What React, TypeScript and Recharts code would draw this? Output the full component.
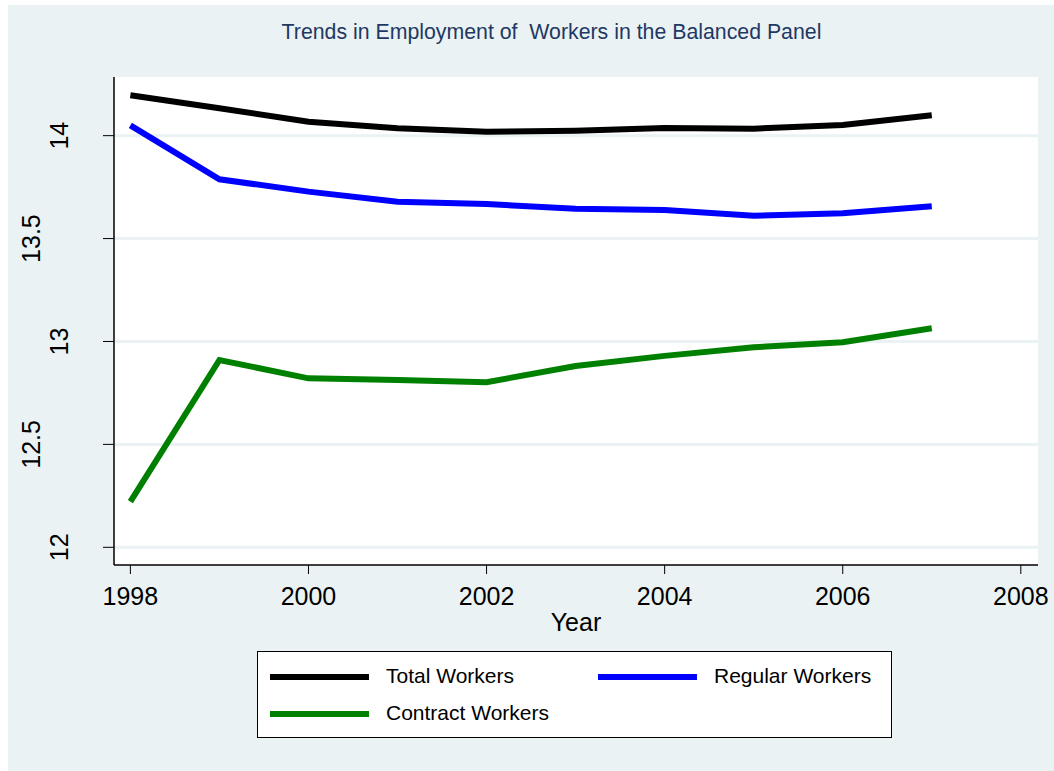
import { LineChart, Line, XAxis, YAxis, CartesianGrid, Label } from "recharts";

const years = [1998, 1999, 2000, 2001, 2002, 2003, 2004, 2005, 2006, 2007];
const totalWorkers = [14.196, 14.133, 14.068, 14.036, 14.019, 14.024, 14.037, 14.034, 14.052, 14.099];
const regularWorkers = [14.05, 13.788, 13.728, 13.679, 13.668, 13.645, 13.639, 13.611, 13.623, 13.657];
const contractWorkers = [12.222, 12.91, 12.821, 12.813, 12.802, 12.881, 12.93, 12.972, 12.996, 13.064];

const xTicks = [1998, 2000, 2002, 2004, 2006, 2008];
const yTicks = [12, 12.5, 13, 13.5, 14];

const series = [
  { key: "total", label: "Total Workers", color: "#000000" },
  { key: "regular", label: "Regular Workers", color: "#0000ff" },
  { key: "contract", label: "Contract Workers", color: "#008000" },
];

const data = years.map((year, i) => ({
  year,
  total: totalWorkers[i],
  regular: regularWorkers[i],
  contract: contractWorkers[i],
}));

const FONT = "'Liberation Sans', Arial, Helvetica, sans-serif";
const PANEL = "#eaf2f3";

// Stata staggers the rotated y labels: whole numbers sit closer to the axis
function YTick(props: any) {
  const { x, y, payload } = props;
  const v = payload.value as number;
  const shift = Number.isInteger(v) ? 33 : 61;
  return (
    <text
      transform={`translate(${x - shift},${y}) rotate(-90)`}
      textAnchor="middle"
      fontSize={25}
      fontFamily={FONT}
      fill="#000"
    >
      {v}
    </text>
  );
}

function LegendBox() {
  const rows = [
    { s: series[0], left: 12, top: 25 },
    { s: series[1], left: 340, top: 25 },
    { s: series[2], left: 12, top: 62 },
  ];
  return (
    <div
      style={{
        position: "absolute",
        left: 257,
        top: 651,
        width: 633,
        height: 85,
        background: "#fff",
        border: "1.5px solid #000",
        fontFamily: FONT,
      }}
    >
      {rows.map(({ s, left, top }) => (
        <div key={s.key}>
          <div
            style={{
              position: "absolute",
              left,
              top: top - 3,
              width: 99,
              height: 6,
              background: s.color,
            }}
          />
          <div
            style={{
              position: "absolute",
              left: left + 116,
              top: top - 13,
              fontSize: 21,
              lineHeight: "24px",
              color: "#000",
              whiteSpace: "nowrap",
            }}
          >
            {s.label}
          </div>
        </div>
      ))}
    </div>
  );
}

export default function App() {
  return (
    <div style={{ position: "absolute", left: 0, top: 0, width: 1054, height: 771, background: "#fff" }}>
      <div style={{ position: "absolute", left: 8, top: 5, width: 1046, height: 766, background: PANEL }} />
      <div
        style={{
          position: "absolute",
          left: 0,
          width: 1103,
          top: 20,
          textAlign: "center",
          fontFamily: FONT,
          fontSize: 21.3,
          lineHeight: "25px",
          color: "#1f3864",
          whiteSpace: "pre",
        }}
      >
        {"Trends in Employment of  Workers in the Balanced Panel"}
      </div>
      <div style={{ position: "absolute", left: 0, top: 0 }}>
        <LineChart
          width={1054}
          height={771}
          data={data}
          margin={{ top: 77, right: 16, bottom: 140, left: 0 }}
        >
          <CartesianGrid
            vertical={false}
            fill="#ffffff"
            stroke={PANEL}
            strokeWidth={3}
            horizontalValues={yTicks}
          />
          <XAxis
            dataKey="year"
            type="number"
            domain={[1997.816, 2008.193]}
            ticks={xTicks}
            allowDataOverflow
            height={66}
            tickSize={9}
            tickMargin={13}
            tick={{ fontSize: 25, fontFamily: FONT, fill: "#000" }}
            stroke="#000"
            tickLine={{ stroke: "#000" }}
            axisLine={{ stroke: "#000", strokeWidth: 1.5 }}
          >
            <Label
              value="Year"
              position="insideBottom"
              offset={0}
              style={{ fontSize: 25, fontFamily: FONT, fill: "#000" }}
            />
          </XAxis>
          <YAxis
            type="number"
            domain={[11.914, 14.285]}
            ticks={yTicks}
            allowDataOverflow
            width={114}
            tickSize={11}
            tick={<YTick />}
            stroke="#000"
            tickLine={{ stroke: "#000" }}
            axisLine={{ stroke: "#000", strokeWidth: 1.5 }}
          />
          {series.map((s) => (
            <Line
              key={s.key}
              type="linear"
              dataKey={s.key}
              name={s.label}
              stroke={s.color}
              strokeWidth={6}
              dot={false}
              activeDot={false}
              isAnimationActive={false}
            />
          ))}
        </LineChart>
      </div>
      <LegendBox />
    </div>
  );
}
